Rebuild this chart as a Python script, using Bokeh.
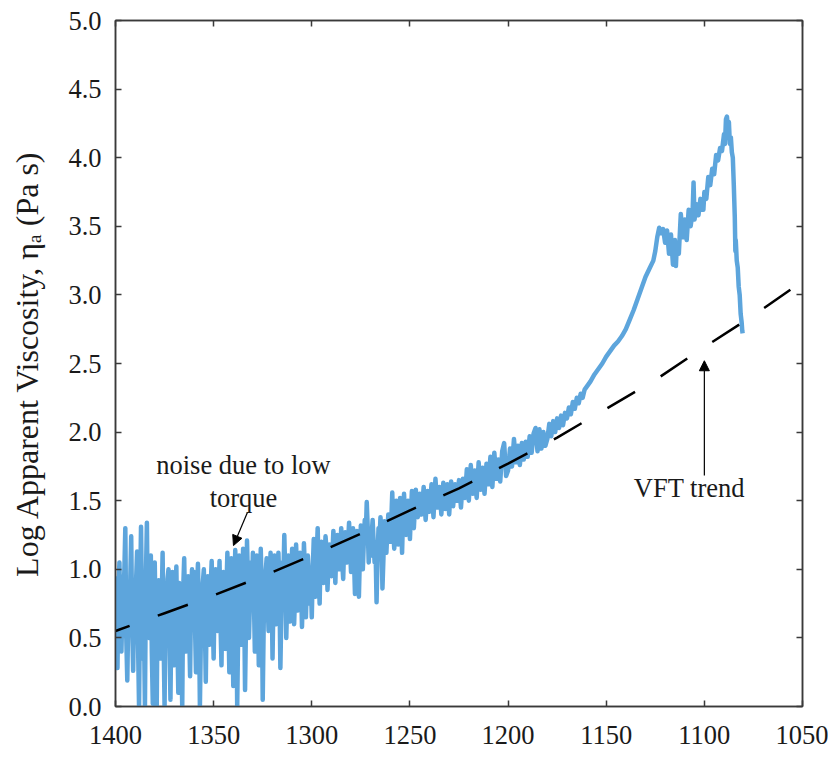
from bokeh.plotting import figure
from bokeh.models import Range1d, LinearAxis, Label, Arrow, NormalHead, FixedTicker, CustomJSTickFormatter
from bokeh.embed import file_html
from bokeh.resources import INLINE

# ---------------- data ----------------
# noisy region, one reading per degree starting at 1400 C and going down
noisy_start = 1400
noisy_vals = [
    0.95, 0.28, 1.05, 0.40, 0.88, 1.30, 0.19, 0.75, 1.24, 0.26,   # 1400-1391
    0.70, 1.13, 0.00, 1.31, 0.35, 0.00, 1.34, 0.50, 1.10, 0.02,   # 1390-1381
    1.05, 0.00, 0.92, 0.35, 1.12, 0.00, 0.60, 1.00, 0.05, 0.98,   # 1380-1371
    0.30, 1.02, 0.10, 0.85, 0.00, 1.08, 0.40, 0.95, 0.22, 1.00,   # 1370-1361
    0.98, 0.25, 1.04, 0.00, 0.70, 1.00, 0.18, 0.95, 0.45, 1.06,   # 1360-1351
    0.35, 1.00, 0.55, 1.06, 0.30, 0.98, 0.42, 1.12, 0.25, 1.08,   # 1350-1341
    0.15, 1.14, 0.00, 1.10, 0.45, 1.15, 0.12, 1.21, 0.50, 1.05,   # 1340-1331
    1.12, 0.40, 1.10, 0.30, 1.15, 0.05, 0.85, 1.08, 0.55, 1.12,   # 1330-1321
    0.35, 1.10, 0.60, 1.12, 0.28, 1.05, 1.25, 0.50, 1.10, 0.62,   # 1320-1311
    1.15, 0.60, 1.18, 0.70, 1.12, 0.58, 1.19, 0.65, 1.10, 0.75,   # 1310-1301
    0.65, 1.22, 0.80, 1.30, 0.75, 1.20, 0.90, 1.24, 0.85, 1.18,   # 1300-1291
    0.95, 1.28, 0.90, 1.25, 1.00, 1.30, 0.93, 1.27, 1.05, 1.34,   # 1290-1281
    0.98, 1.30, 0.82, 1.28, 0.80, 1.32, 1.00, 1.36, 1.49, 1.05,   # 1280-1271
    1.10, 1.36, 1.05, 0.76, 1.30, 1.38, 0.86, 1.35, 1.12, 1.40,   # 1270-1261
    1.20, 1.56, 1.15, 1.50, 1.18, 1.52, 1.12, 1.55, 1.25, 1.50,   # 1260-1251
    1.22, 1.57, 1.30, 1.58, 1.38, 1.55, 1.40, 1.60, 1.36, 1.57,   # 1250-1241
    1.42, 1.62, 1.38, 1.66, 1.45, 1.60, 1.40, 1.63, 1.44, 1.62,   # 1240-1231
    1.40, 1.64, 1.46, 1.62, 1.50, 1.65, 1.45, 1.66, 1.52, 1.73,   # 1230-1221
    1.50, 1.76, 1.55, 1.72, 1.52, 1.78, 1.58, 1.74, 1.55, 1.77,   # 1220-1211
    1.62, 1.82, 1.60, 1.85, 1.66, 1.80, 1.64, 1.86, 1.92, 1.68,   # 1210-1201
    1.72, 1.88, 1.75, 1.95, 1.78, 1.90, 1.76, 1.92, 1.80, 1.93,   # 1200-1191
    1.82, 1.97, 1.85, 1.99, 2.03, 1.86, 2.02, 1.88, 2.00, 1.90,   # 1190-1181
    1.95, 2.06, 1.97, 2.08, 2.00, 2.10, 2.03, 2.12, 2.05, 2.14,   # 1180-1171
    2.10, 2.18, 2.13, 2.22, 2.17, 2.25, 2.21, 2.28, 2.25, 2.31,   # 1170-1161
]
noisy_temp = [noisy_start - i for i in range(len(noisy_vals))]

# intermediate (half-degree) readings in the low-torque region, from 1399.5 C down
half_start = 1399.5
half_vals = [
    0.62, 0.85, 0.55, 0.70, 0.98, 0.50, 0.66, 0.90, 0.60, 0.78,
    0.92, 0.45, 0.80, 0.72, 0.58, 0.95, 0.62, 0.84, 0.40, 0.75,
    0.55, 0.88, 0.68, 0.74, 0.50, 0.82, 0.93, 0.48, 0.70, 0.60,
    0.78, 0.52, 0.90, 0.44, 0.86, 0.66, 0.72, 0.58, 0.80, 0.65,
    0.60, 0.84, 0.70, 0.52, 0.90, 0.62, 0.76, 0.55, 0.88, 0.70,
    0.82, 0.64, 0.78, 0.60, 0.92, 0.58, 0.86, 0.66, 0.80, 0.72,
    0.70, 0.88, 0.55, 0.95, 0.75, 0.82, 0.62, 0.90, 0.78, 0.85,
    0.80, 0.72, 0.95, 0.66, 0.88, 0.60, 0.98, 0.76, 0.84, 0.90,
    0.82, 0.95, 0.78, 0.88, 0.70, 0.92, 0.96, 0.80, 0.85, 0.93,
    0.90, 0.82, 0.98, 0.88, 0.95, 0.84, 1.00, 0.90, 0.96, 0.92,
    1.00, 1.05, 1.10, 0.98, 1.12, 1.02, 1.08, 1.15, 1.04, 1.10,
    1.12, 1.08, 1.16, 1.10, 1.14, 1.05, 1.18, 1.12, 1.20, 1.15,
    1.12, 1.08, 1.15, 1.05, 1.10, 1.18, 1.20, 1.25, 1.30, 1.22,
    1.25, 1.20, 1.15, 1.10, 1.22, 1.25, 1.08, 1.20, 1.28, 1.30,
    1.35, 1.30, 1.38, 1.32, 1.36, 1.34, 1.40, 1.38, 1.42, 1.40,
]
half_temp = [half_start - i for i in range(len(half_vals))]

# smoother rise
rise_temp = [1160, 1158, 1156, 1154, 1152, 1150, 1148, 1146, 1144, 1142, 1140,
             1138, 1136, 1134, 1132, 1130, 1128, 1126, 1125, 1124, 1123]
rise_vals = [2.33, 2.37, 2.42, 2.46, 2.50, 2.55, 2.59, 2.63, 2.66, 2.70, 2.75,
             2.82, 2.89, 2.97, 3.05, 3.13, 3.19, 3.25, 3.32, 3.42, 3.49]

# crystallisation peak and drop
peak_temp = [1122, 1121, 1120, 1119, 1118, 1117, 1116, 1115, 1114.5, 1114, 1113, 1112,
             1111, 1110, 1109, 1108, 1107, 1106, 1105.5, 1105, 1104, 1103, 1102, 1101,
             1100.5, 1100, 1099, 1098, 1097, 1096, 1095, 1094, 1093, 1092, 1091, 1090,
             1089.5, 1089, 1088.5, 1088, 1087.5, 1087, 1086.5, 1086, 1085.5, 1085,
             1084.5, 1084.2, 1084, 1083.5, 1083, 1082.5, 1082, 1081.5, 1081, 1080.7, 1080.5]
peak_vals = [3.45, 3.48, 3.38, 3.47, 3.30, 3.44, 3.22, 3.40, 3.21, 3.38, 3.30, 3.59,
             3.42, 3.55, 3.40, 3.62, 3.50, 3.60, 3.82, 3.55, 3.66, 3.58, 3.70, 3.62,
             3.62, 3.75, 3.70, 3.86, 3.80, 3.92, 3.88, 4.02, 3.98, 4.07, 4.05, 4.17,
             4.10, 4.28, 4.30, 4.22, 4.26, 4.10, 4.15, 4.04, 4.00, 3.80,
             3.57, 3.32, 3.40, 3.25, 3.20, 3.06, 3.00, 2.86, 2.80, 2.74, 2.72]

# merge the readings in measurement order (falling temperature)
low = sorted(zip(noisy_temp + half_temp, noisy_vals + half_vals), key=lambda t: -t[0])
temp = [t for t, _ in low] + rise_temp + peak_temp
visc = [v for _, v in low] + rise_vals + peak_vals

# VFT trend
vft_temp = [1400, 1375, 1350, 1325, 1300, 1275, 1250, 1225, 1200, 1175, 1150, 1125, 1100, 1075, 1050]
vft_vals = [0.55, 0.68, 0.81, 0.95, 1.10, 1.26, 1.43, 1.59, 1.77, 1.96, 2.17, 2.38, 2.62, 2.85, 3.10]

x_ticks = [1400, 1350, 1300, 1250, 1200, 1150, 1100, 1050]
y_ticks = [0.0, 0.5, 1.0, 1.5, 2.0, 2.5, 3.0, 3.5, 4.0, 4.5, 5.0]

# ---------------- figure ----------------
FONT = "Liberation Serif"
TXT = "#1a1a1a"
FRAME = "#3a3a3a"
FS = "26.5px"

p = figure(frame_width=687, frame_height=686, output_backend="svg", toolbar_location=None,
           x_range=Range1d(1400, 1050), y_range=Range1d(0, 5),
           min_border_left=115, min_border_top=20, min_border_right=26, min_border_bottom=51)
p.grid.visible = False
p.outline_line_color = FRAME
p.outline_line_width = 1.5
p.background_fill_color = "white"
p.border_fill_color = "white"

p.line(temp, visc, line_color="#5DA5DC", line_width=4.5, line_join="round")
p.line(vft_temp, vft_vals, line_color="black", line_width=2.5, line_dash="32 30", line_dash_offset=17)

def style(ax):
    ax.axis_line_color = FRAME
    ax.axis_line_width = 1.5
    ax.major_tick_line_color = FRAME
    ax.major_tick_line_width = 1.5
    ax.major_tick_in = 6
    ax.major_tick_out = 0
    ax.minor_tick_line_color = None
    ax.major_label_text_font = FONT
    ax.major_label_text_font_size = FS
    ax.major_label_text_color = TXT

xa = p.xaxis[0]
xa.ticker = FixedTicker(ticks=x_ticks)
style(xa)
xa.major_label_standoff = 19

ya = p.yaxis[0]
ya.ticker = FixedTicker(ticks=y_ticks)
style(ya)
ya.formatter = CustomJSTickFormatter(code="return tick.toFixed(1);")
ya.major_label_standoff = 14
ya.axis_label = "Log Apparent Viscosity, ηₐ (Pa s)"
ya.axis_label_text_font = FONT
ya.axis_label_text_font_size = "32px"
ya.axis_label_text_font_style = "normal"
ya.axis_label_text_color = TXT
ya.axis_label_standoff = 20

blank = CustomJSTickFormatter(code="return '';")
top = LinearAxis(ticker=FixedTicker(ticks=x_ticks), formatter=blank)
style(top)
top.major_label_standoff = 0
p.add_layout(top, "above")

right = LinearAxis(ticker=FixedTicker(ticks=y_ticks), formatter=blank)
style(right)
right.major_label_standoff = 0
p.add_layout(right, "right")

# annotations
for txt, y in [("noise due to low", 1.757), ("torque", 1.523)]:
    p.add_layout(Label(x=1334.8, y=y, text=txt, text_font=FONT, text_font_size=FS,
                       text_color=TXT, text_align="center", text_baseline="middle"))
p.add_layout(Label(x=1107.6, y=1.589, text="VFT trend", text_font=FONT, text_font_size=FS,
                   text_color=TXT, text_align="center", text_baseline="middle"))

p.add_layout(Arrow(x_start=1332.8, y_start=1.414, x_end=1339.9, y_end=1.173,
                   line_color="black", line_width=1.2,
                   end=NormalHead(size=10, fill_color="black", line_color="black")))
p.add_layout(Arrow(x_start=1100, y_start=1.684, x_end=1100, y_end=2.52,
                   line_color="black", line_width=1.2,
                   end=NormalHead(size=10, fill_color="black", line_color="black")))

open("out.html", "w").write(file_html(p, INLINE))
